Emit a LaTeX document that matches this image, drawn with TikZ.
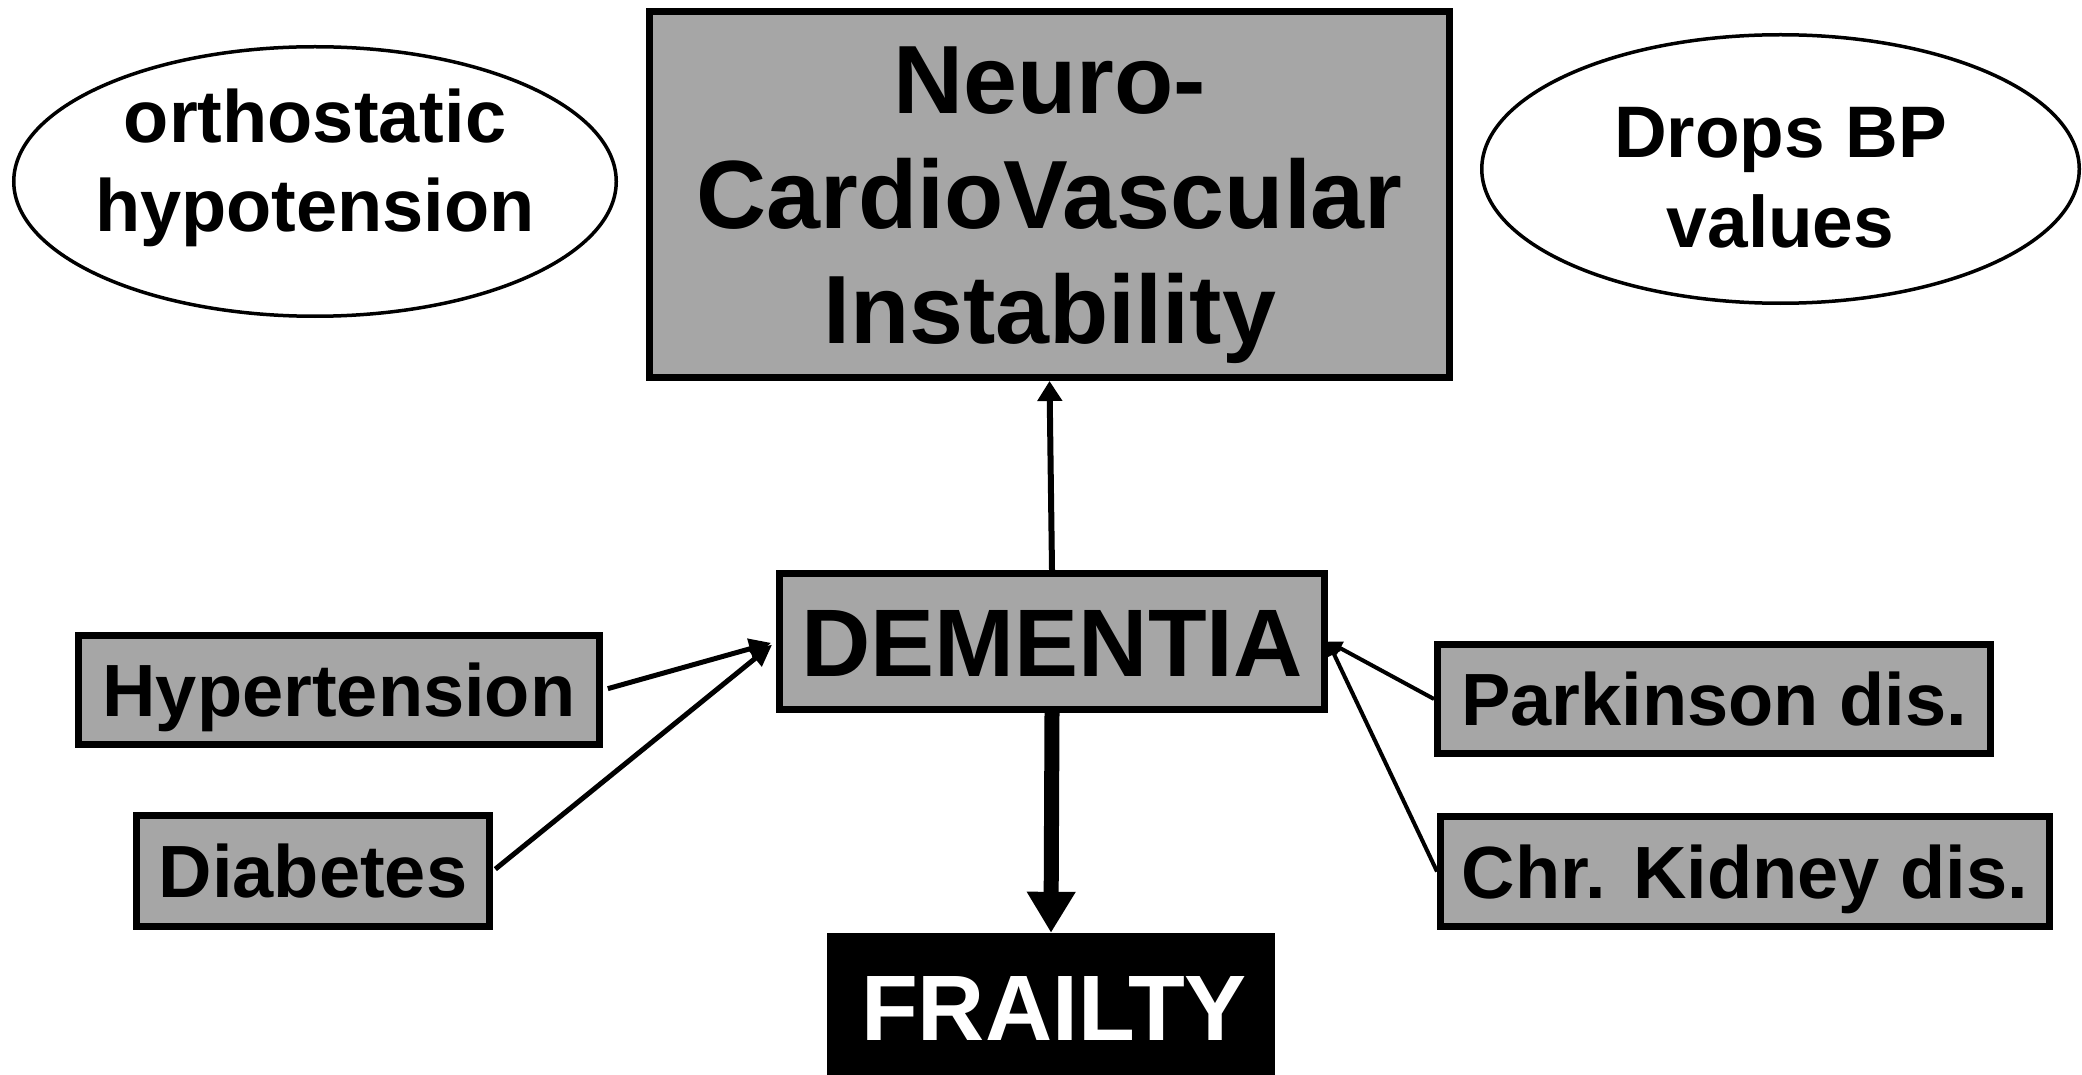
\documentclass[tikz,border=0pt]{standalone}
\usepackage{fontspec}
\setmainfont{Liberation Sans}
\usetikzlibrary{shapes.geometric,arrows.meta}
\definecolor{boxgray}{RGB}{166,166,166}
\begin{document}
\begin{tikzpicture}[x=1pt,y=-1pt,
  graybox/.style={draw=black,fill=boxgray,line width=7pt,rectangle,inner sep=0pt},
  oval/.style={draw=black,fill=white,line width=3.5pt,ellipse,inner sep=0pt},
  smalltext/.style={font=\fontsize{74}{89}\selectfont\bfseries,text height=53pt,text depth=0pt},
  uparrow/.style={line width=6pt,-{Triangle[width=24pt,length=20pt]}},
  bigarrow/.style={line width=15pt,-{Triangle[width=46pt,length=41pt]}},
  inarrow/.style={line width=5pt,-{Triangle[width=20pt,length=22pt]}},
  inarrowR/.style={line width=4pt,-{Triangle[width=14pt,length=14pt]}}
]
\useasboundingbox (0,0) rectangle (2082,1075);
\clip (0,0) rectangle (2082,1075);

\node[graybox,minimum width=800pt,minimum height=366pt,
      font=\fontsize{97}{115}\selectfont\bfseries,text height=0pt,text depth=162pt]
  (ncv) at (1049.5,194.5)
  {\makebox[0pt]{\begin{tabular}[t]{@{}c@{}}Neuro-\\CardioVascular\\Instability\end{tabular}}};

\node[oval,minimum width=602.5pt,minimum height=269.5pt,
      font=\fontsize{74}{89}\selectfont\bfseries,text height=0pt,text depth=77pt]
  (oh) at (315,181.5)
  {\makebox[0pt]{\begin{tabular}[t]{@{}c@{}}orthostatic\\hypotension\end{tabular}}};

\node[oval,minimum width=597.5pt,minimum height=268.5pt,
      font=\fontsize{73}{90}\selectfont\bfseries,text height=0pt,text depth=22pt]
  (bp) at (1780.5,169)
  {\makebox[0pt]{\begin{tabular}[t]{@{}c@{}}Drops BP\\values\end{tabular}}};

\node[graybox,minimum width=545pt,minimum height=136pt,
      font=\fontsize{96}{110}\selectfont\bfseries,text height=69pt,text depth=0pt]
  (dem) at (1052,641.5) {DEMENTIA};

\node[graybox,smalltext,minimum width=521pt,minimum height=109pt] (hyp) at (339,690) {Hypertension};
\node[graybox,smalltext,minimum width=353pt,minimum height=111pt] (dia) at (313,871) {Diabetes};
\node[graybox,smalltext,minimum width=553pt,minimum height=109pt] (park) at (1714,699) {Parkinson dis.};
\node[graybox,smalltext,minimum width=609pt,minimum height=110pt] (ckd) at (1745,871.5) {Chr. Kidney dis.};

\node[fill=black,text=white,inner sep=0pt,minimum width=448pt,minimum height=147pt,
      font=\fontsize{93}{110}\selectfont\bfseries,text height=67pt,text depth=0pt]
  (frail) at (1051,1006.5) {\makebox[0pt]{\hspace*{6pt}FRAILTY}};

\draw[uparrow] (dem.north) -- (ncv.south);
\draw[bigarrow] (dem.south) -- (frail.north);
\draw[inarrow,shorten <=5pt,shorten >=5pt] (hyp.east) -- (dem.west);
\draw[inarrow,shorten <=3pt,shorten >=5pt] (dia.east) -- (dem.west);
\draw[inarrowR] (park.west) -- (dem.east);
\draw[inarrowR] (ckd.west) -- (dem.east);
\end{tikzpicture}
\end{document}
